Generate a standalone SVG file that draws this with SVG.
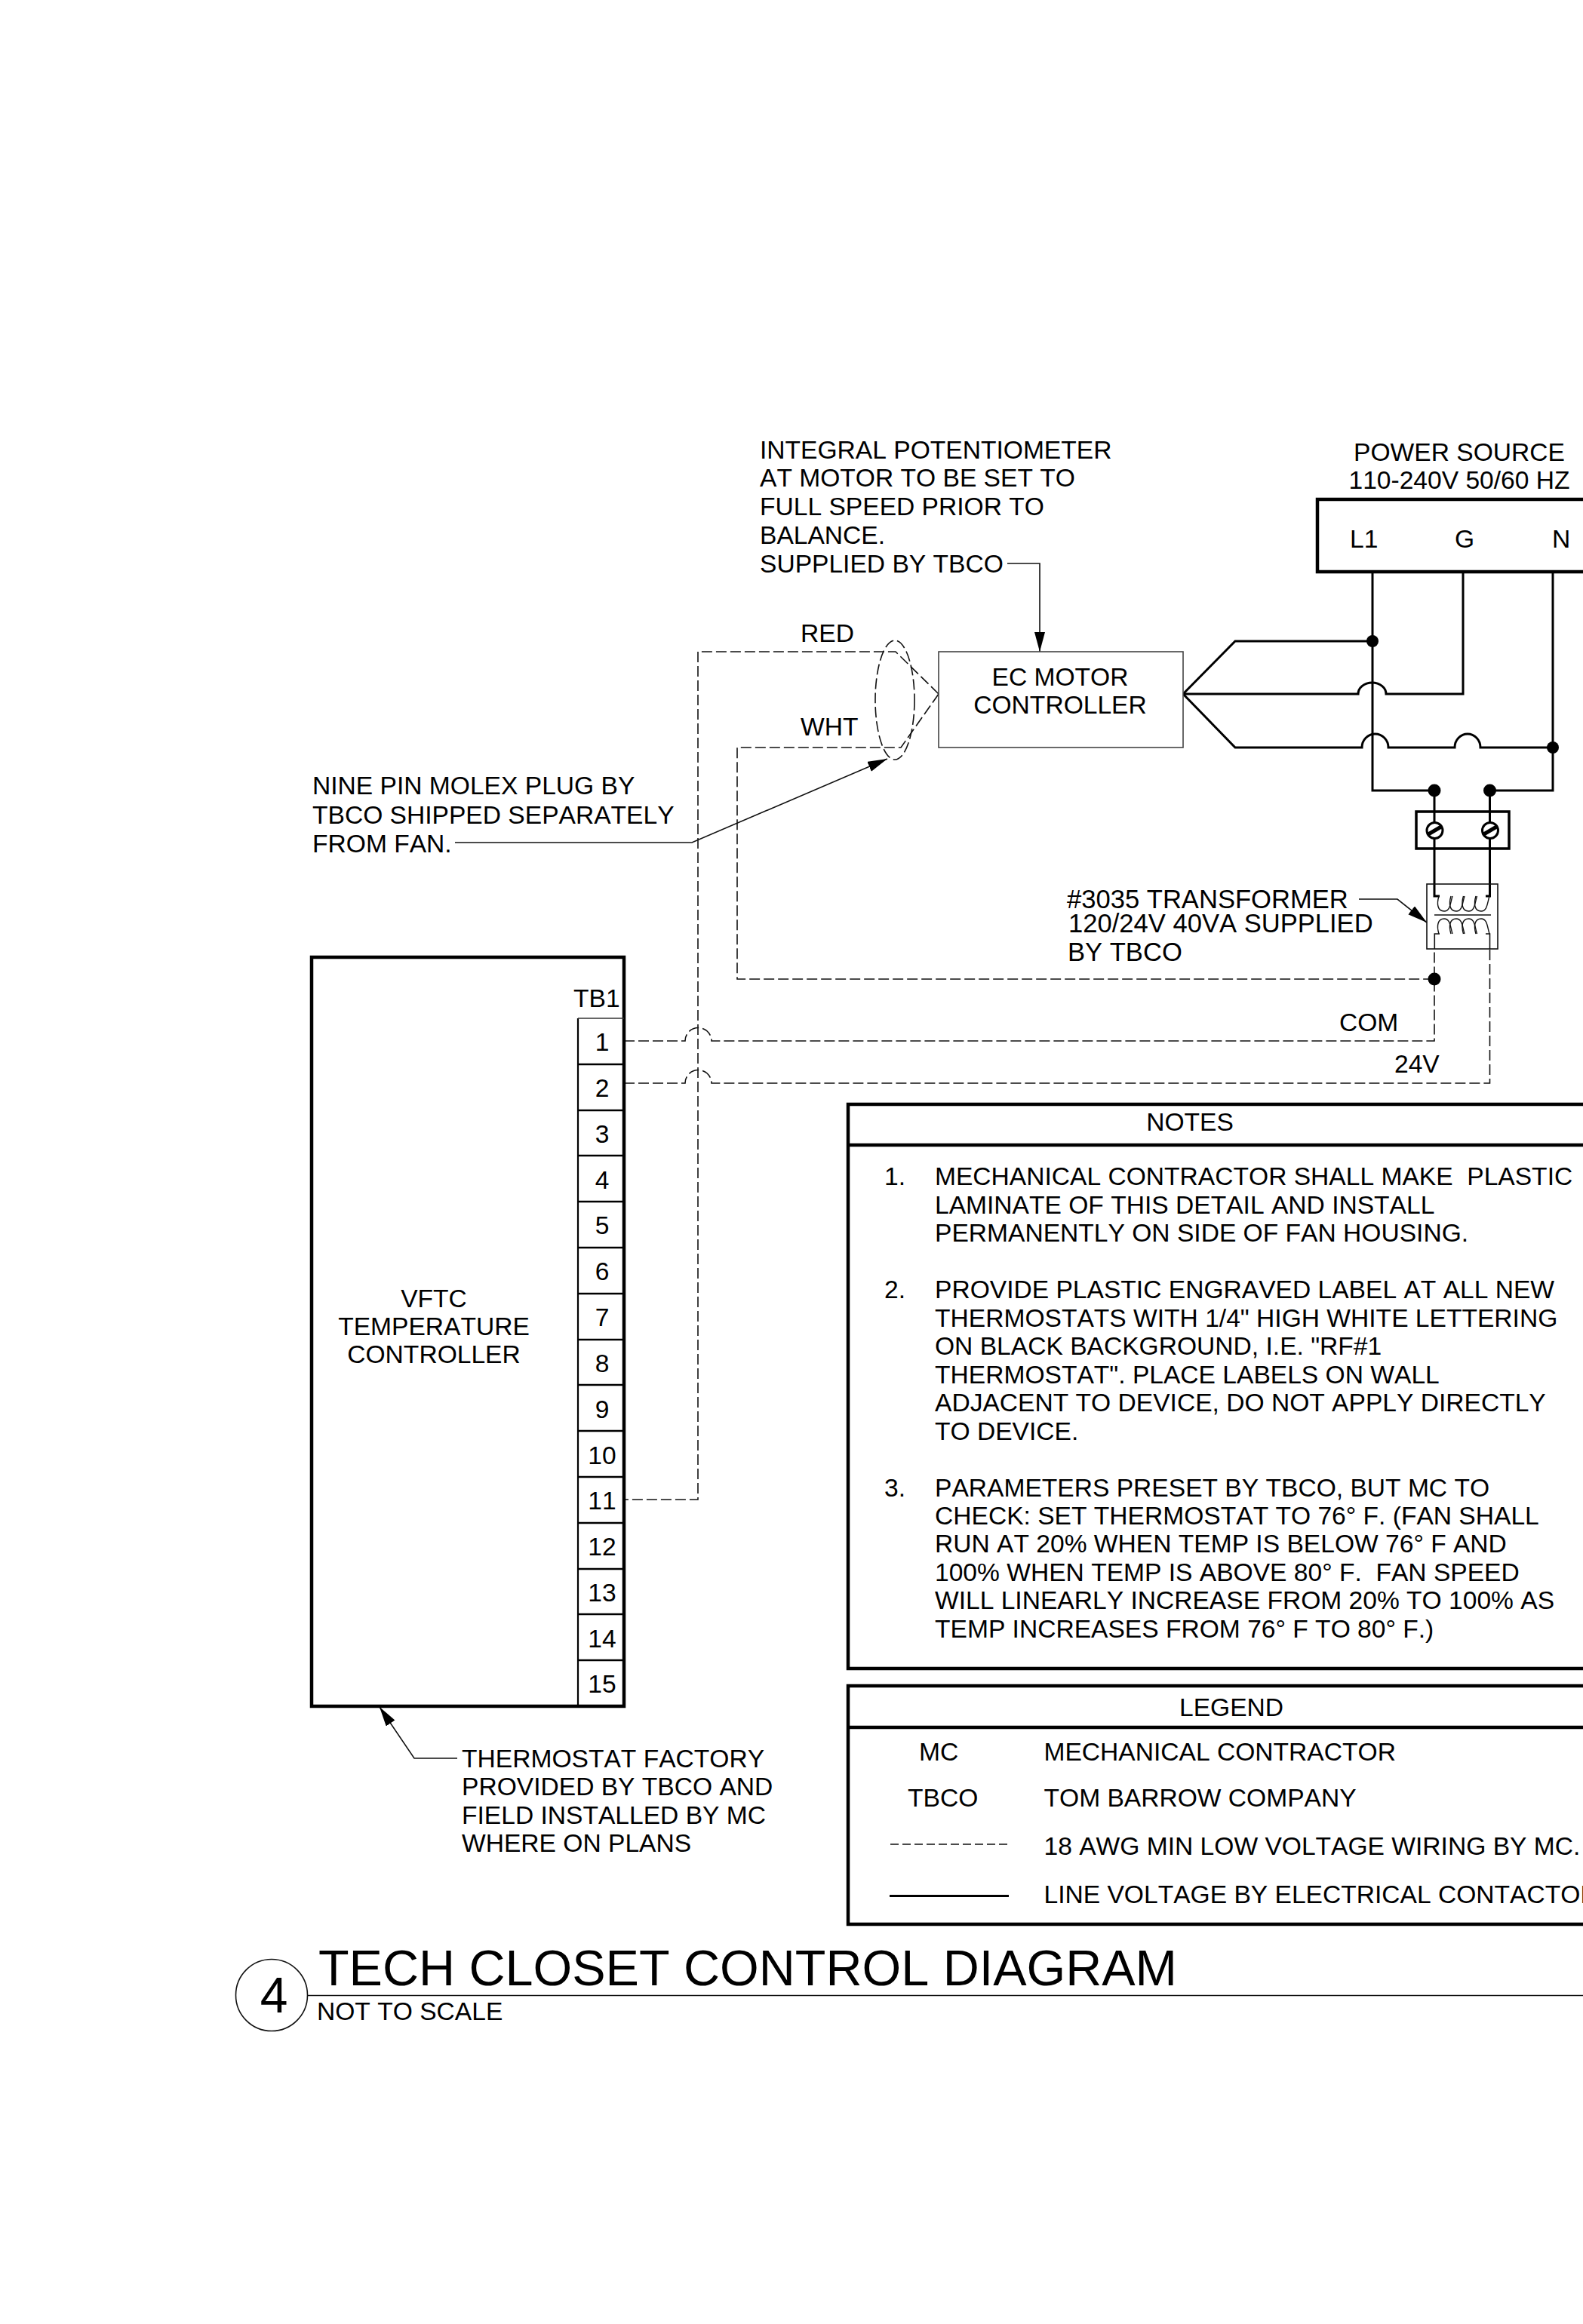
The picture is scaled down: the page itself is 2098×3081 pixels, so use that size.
<svg xmlns="http://www.w3.org/2000/svg" xmlns:xlink="http://www.w3.org/1999/xlink" width="2098" height="3081" viewBox="0 0 2098 3081">
<style>
text{font-family:"Liberation Sans",Arial,sans-serif;font-size:33.6px;fill:#000;font-kerning:none;white-space:pre}
.m{text-anchor:middle}
.big{font-size:34.6px}
.heavy{fill:none;stroke:#000;stroke-width:4.5}
.wire{fill:none;stroke:#000;stroke-width:3}
.thin{fill:none;stroke:#111;stroke-width:1.6}
.dash{fill:none;stroke:#111;stroke-width:1.6;stroke-dasharray:14 5}
.dot{fill:#000;stroke:none}
.coil{fill:none;stroke:#111;stroke-width:1.4}
.arrow{fill:none;stroke:#111;stroke-width:1.6;marker-end:url(#ah)}
</style>
<defs>
<marker id="ah" markerUnits="userSpaceOnUse" markerWidth="28" markerHeight="16" refX="26" refY="7" orient="auto"><path d="M0 0L26 7L0 14Z" fill="#000"/></marker>
<path id="loop" d="M11 0C8 10 8 20 0 20C-9 20-10 10-7 0"/>
</defs>
<rect width="2098" height="3081" fill="#fff"/>

<g id="connectors">
<path class="wire" d="M1568 920L1637 850H1819"/>
<path class="wire" d="M1568 920H1800A18.5 15 0 0 1 1837 920H1939V758"/>
<path class="wire" d="M1568 920L1637 991H1805A17.5 18 0 0 1 1840 991H1928A17 18 0 0 1 1962 991H2058"/>
<path class="wire" d="M1819 758V1048H1901V1188H1908"/>
<path class="wire" d="M2058 758V1048H1974.500V1188H1969"/>
<path class="dash" d="M1244 920L1187 864H925V1988H827"/>
<path class="dash" d="M1244 920L1194 991H977V1298H1901"/>
<path class="dash" d="M827 1380H908A17.500 17.500 0 0 1 943 1380H1901V1258"/>
<path class="dash" d="M827 1436H908A17.500 17.500 0 0 1 943 1436H1974.500V1258"/>
<path class="thin" d="M1901.300 1258V1238H1908M1974.500 1258V1238H1969"/>
<circle class="dot" cx="1819" cy="850" r="8"/>
<circle class="dot" cx="2058" cy="991" r="8"/>
<circle class="dot" cx="1901" cy="1048" r="8.500"/>
<circle class="dot" cx="1974.500" cy="1048" r="8.500"/>
<circle class="dot" cx="1901" cy="1298" r="8.500"/>
<path class="arrow" d="M1335 747H1378V864"/>
<path class="arrow" d="M603 1117H917L1176 1006"/>
<path class="arrow" d="M606 2331H549L503 2263"/>
<path class="arrow" d="M1801 1192H1852L1891 1223"/>
</g>

<g id="power-source">
<path class="heavy" d="M2110 662H1746V758H2110"/>
<text x="1934" y="611" class="m">POWER SOURCE</text>
<text x="1934" y="648" class="m">110-240V 50/60 HZ</text>
<text x="1789" y="726">L1</text>
<text x="1928" y="726">G</text>
<text x="2057" y="726">N</text>
</g>

<g id="ec-motor-controller">
<rect x="1244" y="864" width="324" height="127" fill="#fff" stroke="#444" stroke-width="1.600"/>
<text x="1405" y="909" class="m">EC MOTOR</text>
<text x="1405" y="946" class="m">CONTROLLER</text>
</g>

<g id="molex-plug">
<ellipse cx="1186" cy="928" rx="26" ry="79" fill="none" stroke="#111" stroke-width="1.600" stroke-dasharray="14 5"/>
<text x="1061" y="850.500">RED</text>
<text x="1061" y="975">WHT</text>
</g>

<g id="potentiometer-note">
<text x="1007" y="608">INTEGRAL POTENTIOMETER</text>
<text x="1007" y="645">AT MOTOR TO BE SET TO</text>
<text x="1007" y="683">FULL SPEED PRIOR TO</text>
<text x="1007" y="721">BALANCE.</text>
<text x="1007" y="759">SUPPLIED BY TBCO</text>
</g>

<g id="molex-note">
<text x="414" y="1053">NINE PIN MOLEX PLUG BY</text>
<text x="414" y="1091.500">TBCO SHIPPED SEPARATELY</text>
<text x="414" y="1130">FROM FAN.</text>
</g>

<g id="terminal-block">
<rect class="heavy" x="1877" y="1076" width="123" height="49" style="stroke-width:3.500"/>
<circle cx="1901.500" cy="1101" r="10.500" fill="#fff" stroke="#000" stroke-width="3"/>
<circle cx="1975" cy="1101" r="10.500" fill="#fff" stroke="#000" stroke-width="3"/>
<path d="M1893 1106L1910 1096M1966.500 1106L1983.500 1096" fill="none" stroke="#000" stroke-width="5"/>
</g>

<g id="transformer">
<rect class="thin" x="1891" y="1172" width="94" height="86"/>
<g class="coil">
<use xlink:href="#loop" href="#loop" x="1914" y="1188"/>
<use xlink:href="#loop" href="#loop" x="1930" y="1188"/>
<use xlink:href="#loop" href="#loop" x="1946.500" y="1188"/>
<use xlink:href="#loop" href="#loop" x="1963" y="1188"/>
<g transform="translate(0 2426) scale(1 -1)">
<use xlink:href="#loop" href="#loop" x="1914" y="1188"/>
<use xlink:href="#loop" href="#loop" x="1930" y="1188"/>
<use xlink:href="#loop" href="#loop" x="1946.500" y="1188"/>
<use xlink:href="#loop" href="#loop" x="1963" y="1188"/>
</g>
</g>
<path class="thin" d="M1901 1213H1976"/>
<text x="1414" y="1204" class="big">#3035 TRANSFORMER</text>
<text x="1416" y="1236" class="big">120/24V 40VA SUPPLIED</text>
<text x="1415" y="1274" class="big">BY TBCO</text>
</g>

<g id="wire-labels">
<text x="1775" y="1367">COM</text>
<text x="1848" y="1422">24V</text>
</g>

<g id="temperature-controller">
<rect class="heavy" x="413" y="1269" width="414" height="993"/>
<path d="M766 1350V2262" fill="none" stroke="#000" stroke-width="2.200"/>
<path d="M766 1350H827" fill="none" stroke="#333" stroke-width="1.600"/>
<path d="M766 1411H827M766 1472H827M766 1532H827M766 1593H827M766 1654H827M766 1715H827M766 1776H827M766 1836H827M766 1897H827M766 1958H827M766 2019H827M766 2080H827M766 2140H827M766 2201H827" fill="none" stroke="#000" stroke-width="2.400"/>
<text x="760" y="1335">TB1</text>
<text x="798" y="1393" class="m">1</text>
<text x="798" y="1454" class="m">2</text>
<text x="798" y="1515" class="m">3</text>
<text x="798" y="1576" class="m">4</text>
<text x="798" y="1636" class="m">5</text>
<text x="798" y="1697" class="m">6</text>
<text x="798" y="1758" class="m">7</text>
<text x="798" y="1819" class="m">8</text>
<text x="798" y="1880" class="m">9</text>
<text x="798" y="1941" class="m">10</text>
<text x="798" y="2001" class="m">11</text>
<text x="798" y="2062" class="m">12</text>
<text x="798" y="2123" class="m">13</text>
<text x="798" y="2184" class="m">14</text>
<text x="798" y="2244" class="m">15</text>
<text x="575" y="1733" class="m">VFTC</text>
<text x="575" y="1770" class="m">TEMPERATURE</text>
<text x="575" y="1807" class="m">CONTROLLER</text>
</g>

<g id="thermostat-note">
<text x="612" y="2342.500">THERMOSTAT FACTORY</text>
<text x="612" y="2380">PROVIDED BY TBCO AND</text>
<text x="612" y="2417.500">FIELD INSTALLED BY MC</text>
<text x="612" y="2455">WHERE ON PLANS</text>
</g>

<g id="notes">
<path class="heavy" d="M2110 1464H1124V2212H2110M1124 1518H2110"/>
<text x="1577" y="1499" class="m">NOTES</text>
<text x="1172" y="1571">1.</text>
<text x="1239" y="1571">MECHANICAL CONTRACTOR SHALL MAKE  PLASTIC</text>
<text x="1239" y="1608.500">LAMINATE OF THIS DETAIL AND INSTALL</text>
<text x="1239" y="1646">PERMANENTLY ON SIDE OF FAN HOUSING.</text>
<text x="1172" y="1721">2.</text>
<text x="1239" y="1721">PROVIDE PLASTIC ENGRAVED LABEL AT ALL NEW</text>
<text x="1239" y="1758.500">THERMOSTATS WITH 1/4" HIGH WHITE LETTERING</text>
<text x="1239" y="1796">ON BLACK BACKGROUND, I.E. "RF#1</text>
<text x="1239" y="1833.500">THERMOSTAT". PLACE LABELS ON WALL</text>
<text x="1239" y="1871">ADJACENT TO DEVICE, DO NOT APPLY DIRECTLY</text>
<text x="1239" y="1908.500">TO DEVICE.</text>
<text x="1172" y="1983.500">3.</text>
<text x="1239" y="1983.500">PARAMETERS PRESET BY TBCO, BUT MC TO</text>
<text x="1239" y="2020.500">CHECK: SET THERMOSTAT TO 76° F. (FAN SHALL</text>
<text x="1239" y="2058">RUN AT 20% WHEN TEMP IS BELOW 76° F AND</text>
<text x="1239" y="2095.500">100% WHEN TEMP IS ABOVE 80° F.  FAN SPEED</text>
<text x="1239" y="2133">WILL LINEARLY INCREASE FROM 20% TO 100% AS</text>
<text x="1239" y="2170.500">TEMP INCREASES FROM 76° F TO 80° F.)</text>
</g>

<g id="legend">
<path class="heavy" d="M2110 2235H1124V2551H2110M1124 2290H2110"/>
<text x="1632" y="2275" class="m">LEGEND</text>
<text x="1218" y="2334">MC</text>
<text x="1383.500" y="2334">MECHANICAL CONTRACTOR</text>
<text x="1203" y="2395">TBCO</text>
<text x="1383.500" y="2395">TOM BARROW COMPANY</text>
<path d="M1180 2445H1337" fill="none" stroke="#111" stroke-width="1.600" stroke-dasharray="11 5"/>
<text x="1383.500" y="2459">18 AWG MIN LOW VOLTAGE WIRING BY MC.</text>
<path class="wire" d="M1179 2513.500H1337"/>
<text x="1383.500" y="2523">LINE VOLTAGE BY ELECTRICAL CONTACTOR</text>
</g>

<g id="title">
<circle cx="360" cy="2645" r="47.500" fill="none" stroke="#111" stroke-width="1.600"/>
<text x="363" y="2668" class="m" style="font-size:66px">4</text>
<path class="thin" d="M407.500 2645.500H2110"/>
<text x="422" y="2632" style="font-size:66.500px">TECH CLOSET CONTROL DIAGRAM</text>
<text x="420" y="2678">NOT TO SCALE</text>
</g>
</svg>
